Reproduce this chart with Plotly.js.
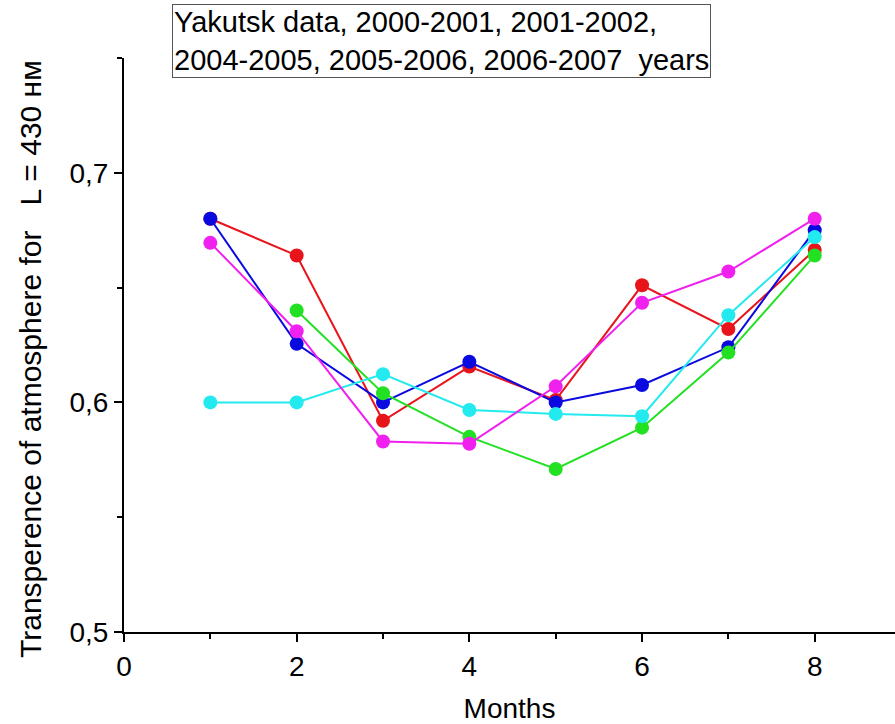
<!DOCTYPE html>
<html><head><meta charset="utf-8">
<script src="https://cdn.plot.ly/plotly-3.0.1.min.js"></script>
<style>html,body{margin:0;padding:0;background:#fff}#chart{width:895px;height:724px}</style>
</head><body><div id="chart"></div>
<script>
const months = [1,2,3,4,5,6,7,8];
const monthsGreen = [2,3,4,5,6,7,8];
const redVals = [0.680,0.664,0.592,0.6156,0.601,0.651,0.632,0.6664];
const blueVals = [0.680,0.6255,0.600,0.6177,0.600,0.6076,0.624,0.675];
const greenVals = [0.640,0.604,0.585,0.571,0.589,0.6217,0.664];
const cyanVals = [0.600,0.600,0.6123,0.5967,0.595,0.594,0.638,0.672];
const magentaVals = [0.6695,0.631,0.583,0.582,0.607,0.6434,0.657,0.680];
const titleText = "Yakutsk data, 2000-2001, 2001-2002,<br>2004-2005, 2005-2006, 2006-2007  years";
const yTitle = 'Transperence of atmosphere for   L = 430 нм';
const xTitle = 'Months';

function tr(x,y,color){
  return {x:x,y:y,type:'scatter',mode:'lines+markers',
    line:{color:color,width:2},marker:{color:color,size:14},showlegend:false,hoverinfo:'skip'};
}
const data = [
  tr(months,redVals,'#e8141b'),
  tr(months,blueVals,'#0a0ae0'),
  tr(monthsGreen,greenVals,'#22e022'),
  tr(months,cyanVals,'#22eaee'),
  tr(months,magentaVals,'#f020ee')
];
const fam = 'Liberation Sans, Arial, sans-serif';
const layout = {
  width:895,height:724,
  margin:{l:124,r:0,t:58,b:92},
  paper_bgcolor:'#fff',plot_bgcolor:'#fff',
  separators:',.',
  font:{family:fam,color:'#000'},
  xaxis:{range:[0,8.93],dtick:2,tick0:0,showgrid:false,zeroline:false,automargin:false,
    showline:true,linecolor:'#000',linewidth:2,ticks:'outside',ticklen:8,tickwidth:2,tickcolor:'#000',
    minor:{dtick:1,ticks:'outside',ticklen:5,tickwidth:2,tickcolor:'#000'},
    tickfont:{family:fam,size:28,color:'#000'},
    title:{text:xTitle,font:{family:fam,size:28,color:'#000'},standoff:22}},
  yaxis:{range:[0.5,0.75],dtick:0.1,tick0:0.5,tickformat:'.1f',showgrid:false,zeroline:false,automargin:false,
    showline:true,linecolor:'#000',linewidth:2,ticks:'outside',ticklen:8,tickwidth:2,tickcolor:'#000',
    minor:{dtick:0.05,ticks:'outside',ticklen:5,tickwidth:2,tickcolor:'#000'},
    tickfont:{family:fam,size:28,color:'#000'}},
  annotations:[
    {text:titleText,xref:'paper',yref:'paper',
    x:(172-124)/771,y:1+(58-4)/574,xanchor:'left',yanchor:'top',align:'left',showarrow:false,
    font:{family:fam,size:29,color:'#000'},bordercolor:'#555',borderwidth:1,borderpad:1,bgcolor:'#fff'},
    {text:yTitle,xref:'paper',yref:'paper',textangle:-90,
    x:(30-124)/771,y:(632-359)/574,xanchor:'center',yanchor:'middle',showarrow:false,
    font:{family:fam,size:30,color:'#000'}}
  ]
};
Plotly.newPlot('chart',data,layout,{displayModeBar:false,staticPlot:true});
</script></body></html>
